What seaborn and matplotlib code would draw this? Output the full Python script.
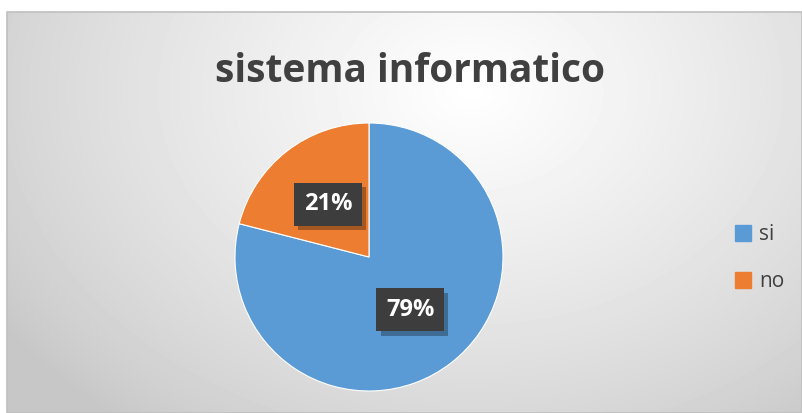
import numpy as np
import matplotlib
matplotlib.use("Agg")
import matplotlib.pyplot as plt
import matplotlib.patheffects as pe
from matplotlib.patches import Rectangle
from matplotlib.lines import Line2D
import seaborn as sns

# data
labels = ['si', 'no']
values = [79, 21]
colors = ['#5B9BD5', '#ED7D31']
title = 'sistema informatico'

sns.set_theme(style='white')
plt.rcParams['font.family'] = ['Open Sans', 'DejaVu Sans']

W, H = 802, 413
fig = plt.figure(figsize=(W / 100, H / 100), dpi=100)

# background with radial gradient
bg = fig.add_axes([0, 0, 1, 1], zorder=0)
bg.set_xlim(0, W)
bg.set_ylim(H, 0)
bg.axis('off')
yy, xx = np.mgrid[12:H, 7:W]
d = np.sqrt(((xx - 470) / 1.0) ** 2 + ((yy - 90) / 0.75) ** 2)
g = np.clip(1 - d / 560, 0, 1)
shade = 0.78 + 0.22 * g ** 0.8
bg.imshow(shade, cmap='gray', vmin=0, vmax=1, extent=(7, W, H, 12), aspect='auto')
bg.add_patch(Rectangle((7, 12), W - 7, H - 12, fill=False, edgecolor='#bfbfbf', lw=1.2))

# title
fig.text(410 / W, 1 - 71 / H, title, ha='center', va='center',
         fontsize=28, fontweight='bold', color='#404040')

# pie
cx, cy, r = 369, 257, 134
ax = fig.add_axes([(cx - r) / W, (H - cy - r) / H, 2 * r / W, 2 * r / H], zorder=1)
wedges, texts, autotexts = ax.pie(values, colors=colors, startangle=90, counterclock=False,
                                  autopct='%1.0f%%', pctdistance=0.5,
                                  wedgeprops=dict(edgecolor='white', linewidth=0.8))
ax.set_xlim(-1, 1)
ax.set_ylim(-1, 1)
for t in autotexts:
    t.set_color('white')
    t.set_fontsize(17)
    t.set_fontweight('bold')
    t.set_bbox(dict(boxstyle='square,pad=0.4', facecolor='#3d3d3d', edgecolor='none'))
    t.get_bbox_patch().set_path_effects([pe.SimplePatchShadow(offset=(3, -3), shadow_rgbFace='black', alpha=0.3),
                                         pe.Normal()])

# legend
handles = [Line2D([0], [0], marker='s', linestyle='none', markersize=11,
                  markerfacecolor=c, markeredgecolor=c) for c in colors]
fig.legend(handles, labels, loc='center left', bbox_to_anchor=(703 / W, 1 - 258 / H),
           frameon=False, fontsize=15, labelspacing=1.25, handletextpad=-0.2,
           labelcolor='#404040')

fig.savefig('out.png', dpi=100)
